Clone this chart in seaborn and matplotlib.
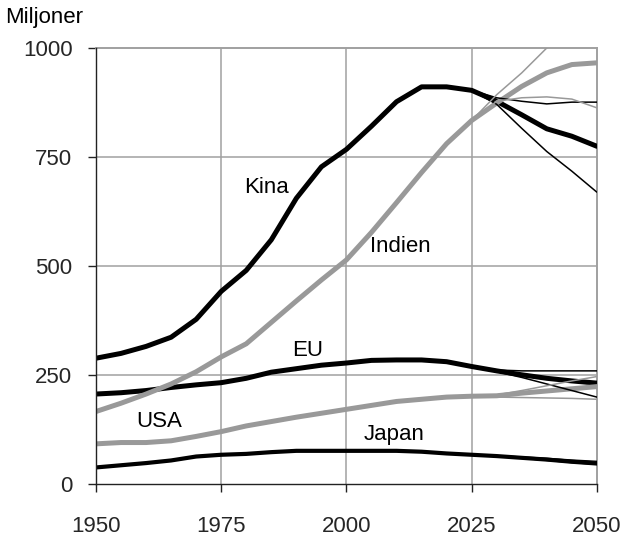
import matplotlib
matplotlib.use("Agg")
import matplotlib.pyplot as plt
import seaborn as sns
import pandas as pd

years = [1950, 1955, 1960, 1965, 1970, 1975, 1980, 1985, 1990, 1995, 2000,
         2005, 2010, 2015, 2020, 2025, 2030, 2035, 2040, 2045, 2050]
kina = [289, 300, 316, 337, 378, 442, 490, 560, 655, 727, 767, 820, 876, 910, 910, 902, 877, 846, 814, 797, 774]
indien = [167, 186, 207, 230, 258, 292, 322, 371, 420, 468, 514, 577, 645, 714, 780, 833, 873, 911, 942, 961, 965]
eu = [207, 210, 215, 222, 228, 233, 243, 257, 265, 273, 278, 284, 285, 285, 281, 270, 260, 251, 243, 237, 232]
usa = [93, 96, 96, 100, 110, 121, 134, 144, 154, 163, 172, 181, 190, 195, 200, 202, 203, 209, 214, 219, 224]
japan = [39, 44, 49, 55, 64, 68, 70, 74, 77, 77, 77, 77, 77, 75, 71, 68, 65, 61, 57, 52, 48]

var_years = [2025, 2030, 2035, 2040, 2045, 2050]
kina_hog = [902, 885, 877, 871, 875, 875]
kina_lag = [902, 870, 815, 762, 717, 669]
indien_hog = [833, 892, 942, 999, 1055, 1110]
indien_lag = [833, 877, 885, 887, 882, 862]
eu_hog = [270, 262, 260, 260, 260, 260]
eu_lag = [270, 258, 245, 230, 215, 200]
usa_hog = [202, 205, 215, 226, 237, 247]
usa_lag = [202, 200, 199, 198, 197, 195]
japan_hog = [68, 66, 63, 60, 56, 53]
japan_lag = [68, 64, 60, 55, 50, 46]

labels = ["Kina", "Indien", "EU", "USA", "Japan"]
label_x = [1984.1, 2010.8, 1992.2, 1962.7, 2009.6]
label_y = [667, 531, 293, 132, 102]

x_ticks = [1950, 1975, 2000, 2025, 2050]
y_ticks = [0, 250, 500, 750, 1000]

sns.set_theme(style="white")
plt.rcParams['font.family'] = ['Liberation Sans', 'DejaVu Sans']

BLACK = "#000000"
GRAY = "#999999"
GRID = "#a0a0a0"
FS = 16

fig = plt.figure(figsize=(6.25, 5.37), dpi=100)
ax = fig.add_axes([0.1536, 0.0978, 0.8014, 0.8137])

main = pd.DataFrame({"year": years, "Kina": kina, "Indien": indien, "EU": eu,
                     "USA": usa, "Japan": japan})
var = pd.DataFrame({"year": var_years,
                    "kina_hog": kina_hog, "kina_lag": kina_lag,
                    "indien_hog": indien_hog, "indien_lag": indien_lag,
                    "eu_hog": eu_hog, "eu_lag": eu_lag,
                    "usa_hog": usa_hog, "usa_lag": usa_lag,
                    "japan_hog": japan_hog, "japan_lag": japan_lag})

for v in ["japan_hog", "japan_lag"]:
    sns.lineplot(data=var, x="year", y=v, ax=ax, color=BLACK, linewidth=1.0, zorder=3)

styles = [("Japan", BLACK, 3.0), ("EU", BLACK, 3.6), ("Kina", BLACK, 3.6),
          ("USA", GRAY, 3.6), ("Indien", GRAY, 3.6)]
for col, c, lw in styles:
    sns.lineplot(data=main, x="year", y=col, ax=ax, color=c, linewidth=lw, zorder=4)

thin = [("kina_hog", BLACK), ("kina_lag", BLACK), ("eu_hog", BLACK), ("eu_lag", BLACK),
        ("indien_hog", GRAY), ("indien_lag", GRAY), ("usa_hog", GRAY), ("usa_lag", GRAY)]
for v, c in thin:
    sns.lineplot(data=var, x="year", y=v, ax=ax, color=c, linewidth=1.1, zorder=5)

ax.set_xlim(1950, 2050)
ax.set_ylim(0, 1000)
ax.set_xticks(x_ticks)
ax.set_yticks(y_ticks)
ax.set_xticklabels([str(t) for t in x_ticks])
ax.set_yticklabels([str(t) for t in y_ticks])
ax.set_xlabel("")
ax.set_ylabel("")

for xv in x_ticks[1:-1]:
    ax.axvline(xv, color=GRID, linewidth=1.1, zorder=1)
for yv in y_ticks[1:-1]:
    ax.axhline(yv, color=GRID, linewidth=1.1, zorder=1)

for side in ["top", "right"]:
    ax.spines[side].set_color(GRID)
    ax.spines[side].set_linewidth(1.4)
for side in ["left", "bottom"]:
    ax.spines[side].set_color("#222222")
    ax.spines[side].set_linewidth(1.0)
    ax.spines[side].set_zorder(6)

ax.tick_params(axis="x", direction="out", length=6, width=1.0, color="#222222",
               pad=17, labelsize=FS, bottom=True)
ax.tick_params(axis="y", direction="out", length=6, width=1.0, color="#222222",
               pad=11, labelsize=FS, left=True)

for t, xv, yv in zip(labels, label_x, label_y):
    ax.text(xv, yv, t, ha="center", va="baseline", fontsize=FS, color=BLACK, zorder=7)

fig.text(0.008, 0.958, "Miljoner", ha="left", va="baseline", fontsize=FS, color=BLACK)

fig.savefig("out.png", dpi=100)
